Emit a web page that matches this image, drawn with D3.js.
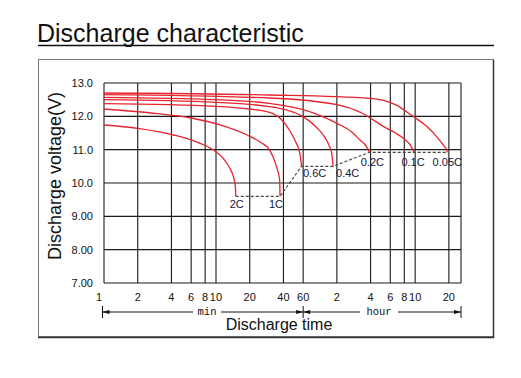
<!DOCTYPE html>
<html>
<head>
<meta charset="utf-8">
<script src="https://cdn.jsdelivr.net/npm/d3@7"></script>
<style>
  body { margin: 0; background: #fff; }
  svg { display: block; font-family: "Liberation Sans", Arial, sans-serif; }
</style>
</head>
<body>
<svg id="chart" width="521" height="378"></svg>
<script>
"use strict";

// x ticks in minutes, labels as printed (min up to 60, then hours)
const tickMinutes = [1, 2, 4, 6, 8, 10, 20, 40, 60, 120, 240, 360, 480, 600, 1200];
const tickLabels = ["1", "2", "4", "6", "8", "10", "20", "40", "60", "2", "4", "6", "8", "10", "20"];

const voltTicks = [13, 12, 11, 10, 9, 8, 7];
const voltLabels = ["13.0", "12.0", "11.0", "10.0", "9.00", "8.00", "7.00"];

const rates = ["2C", "1C", "0.6C", "0.4C", "0.2C", "0.1C", "0.05C"];

// [minutes, volts]
const curve2C = [[1, 11.74], [2, 11.64], [4.2, 11.44], [7.2, 11.19], [10, 10.94], [11.6, 10.74],
  [13.3, 10.44], [14.3, 10.19], [14.9, 9.89], [15.0, 9.6]];
const curve1C = [[1, 12.22], [3, 12.08], [6, 11.95], [12, 11.7], [19, 11.44], [25, 11.22], [30, 11.0],
  [34.7, 10.49], [37.0, 10.09], [37.3, 9.6]];
const curve06C = [[1, 12.38], [10, 12.3], [20, 12.22], [30, 12.12], [38, 11.92], [45, 11.6],
  [52, 11.2], [56, 10.9], [58, 10.5]];
const curve04C = [[1, 12.5], [10, 12.42], [30, 12.29], [60, 11.99], [80, 11.65], [90.6, 11.44],
  [103, 11.1], [108, 10.89], [111, 10.5]];
const curve02C = [[1, 12.57], [10, 12.5], [30, 12.39], [60, 12.2], [120, 11.79], [160, 11.55],
  [193, 11.29], [220, 11.1], [234, 10.92]];
const curve01C = [[1, 12.65], [30, 12.55], [120, 12.35], [200, 12.1], [312, 11.7], [400, 11.5],
  [467, 11.35], [540, 11.15], [586, 10.92]];
const curve005C = [[1, 12.70], [30, 12.64], [237, 12.54], [400, 12.35], [573, 12.0], [760, 11.7],
  [933, 11.39], [1080, 11.12], [1150, 10.98], [1162, 10.92]];

const curves = [curve2C, curve1C, curve06C, curve04C, curve02C, curve01C, curve005C];

// cut-off line joining the curve ends
const cutoff = [[15.0, 9.6], [37.3, 9.6], [58, 10.5], [111, 10.5], [234, 10.92], [586, 10.92], [1162, 10.92]];

const svg = d3.select("#chart");

const x = d3.scaleLog().domain([1, 1540]).range([104, 461]);
const y = d3.scaleLinear().domain([7, 13]).range([283, 83]);

// outer frame
svg.append("rect").attr("x", 38.5).attr("y", 59.5).attr("width", 455).attr("height", 277)
  .attr("fill", "none").attr("stroke", "#777").attr("stroke-width", 1);
svg.append("path").attr("d", "M493.5,60V337.5H38")
  .attr("fill", "none").attr("stroke", "#333").attr("stroke-width", 1.5);

// title
svg.append("text").attr("x", 37).attr("y", 42).attr("font-size", 25).attr("fill", "#111")
  .text("Discharge characteristic");
svg.append("line").attr("x1", 38).attr("x2", 494).attr("y1", 45.5).attr("y2", 45.5)
  .attr("stroke", "#111").attr("stroke-width", 1.3);

// grid
const grid = svg.append("g").attr("stroke", "#1a1a1a").attr("stroke-width", 1.1);
voltTicks.forEach((v) => {
  grid.append("line").attr("x1", x.range()[0]).attr("x2", x.range()[1])
    .attr("y1", y(v)).attr("y2", y(v));
});
tickMinutes.concat([1540]).forEach((t) => {
  grid.append("line").attr("x1", x(t)).attr("x2", x(t))
    .attr("y1", y(13)).attr("y2", y(7));
});

// y tick labels
svg.append("g").selectAll("text").data(voltTicks).join("text")
  .attr("x", 93).attr("y", (d) => y(d)).attr("dy", "0.36em")
  .attr("text-anchor", "end").attr("font-size", 11).attr("fill", "#111")
  .text((d, i) => voltLabels[i]);

// x tick labels
svg.append("g").selectAll("text").data(tickMinutes).join("text")
  .attr("x", (d) => x(d) + (d === 1 ? -5 : 0)).attr("y", 301)
  .attr("text-anchor", "middle").attr("font-size", 11).attr("fill", "#111")
  .text((d, i) => tickLabels[i]);

// axis titles
svg.append("text").attr("transform", "translate(61,176) rotate(-90)")
  .attr("text-anchor", "middle").attr("font-size", 18).attr("fill", "#111")
  .text("Discharge voltage(V)");
svg.append("text").attr("x", 279).attr("y", 330)
  .attr("text-anchor", "middle").attr("font-size", 16).attr("fill", "#111")
  .text("Discharge time");

// min / hour span markers
const span = svg.append("g").attr("stroke", "#111").attr("stroke-width", 1).attr("fill", "#111");
const sy = 312;
const xMin = x(1) - 1.5, xMid = x(60), xEnd = x(1540);
[xMin, xMid, xEnd].forEach((px) => {
  span.append("line").attr("x1", px).attr("x2", px).attr("y1", sy - 6).attr("y2", sy + 6);
});
span.append("line").attr("x1", xMin).attr("x2", 193).attr("y1", sy).attr("y2", sy);
span.append("line").attr("x1", 221).attr("x2", xMid).attr("y1", sy).attr("y2", sy);
span.append("line").attr("x1", xMid).attr("x2", 360).attr("y1", sy).attr("y2", sy);
span.append("line").attr("x1", 398).attr("x2", xEnd).attr("y1", sy).attr("y2", sy);
function arrow(px, dir) {
  span.append("path").attr("stroke", "none")
    .attr("d", `M${px},${sy}L${px - dir * 7},${sy - 2}L${px - dir * 7},${sy + 2}Z`);
}
arrow(xMin, -1); arrow(xMid, 1); arrow(xMid, -1); arrow(xEnd, 1);
svg.append("text").attr("x", 207).attr("y", 315).attr("text-anchor", "middle")
  .attr("font-family", "'Liberation Mono', 'DejaVu Sans Mono', monospace")
  .attr("font-size", 10.5).attr("fill", "#111").text("min");
svg.append("text").attr("x", 379).attr("y", 315).attr("text-anchor", "middle")
  .attr("font-family", "'Liberation Mono', 'DejaVu Sans Mono', monospace")
  .attr("font-size", 10.5).attr("fill", "#111").text("hour");

// cut-off dashed line
const line = d3.line().x((d) => x(d[0])).y((d) => y(d[1]));
svg.append("path").attr("d", line(cutoff))
  .attr("fill", "none").attr("stroke", "#444").attr("stroke-width", 1.1)
  .attr("stroke-dasharray", "3,2");

// discharge curves
const smooth = d3.line().curve(d3.curveMonotoneX).x((d) => x(d[0])).y((d) => y(d[1]));
svg.append("g").selectAll("path").data(curves).join("path")
  .attr("d", smooth)
  .attr("fill", "none").attr("stroke", "#e8232e").attr("stroke-width", 1.3);

// rate labels beside each curve end
const labelPlace = [
  { anchor: "middle", dx: 1, dy: 12 },
  { anchor: "middle", dx: -4, dy: 12 },
  { anchor: "start", dx: 1.5, dy: 11 },
  { anchor: "start", dx: 3, dy: 11 },
  { anchor: "middle", dx: 3, dy: 14 },
  { anchor: "middle", dx: -1, dy: 14 },
  { anchor: "middle", dx: 0, dy: 14 }
];
svg.append("g").selectAll("text").data(curves).join("text")
  .attr("x", (d, i) => x(d[d.length - 1][0]) + labelPlace[i].dx)
  .attr("y", (d, i) => y(d[d.length - 1][1]) + labelPlace[i].dy)
  .attr("text-anchor", (d, i) => labelPlace[i].anchor)
  .attr("font-size", 11).attr("fill", "#14143a")
  .text((d, i) => rates[i]);
</script>
</body>
</html>
